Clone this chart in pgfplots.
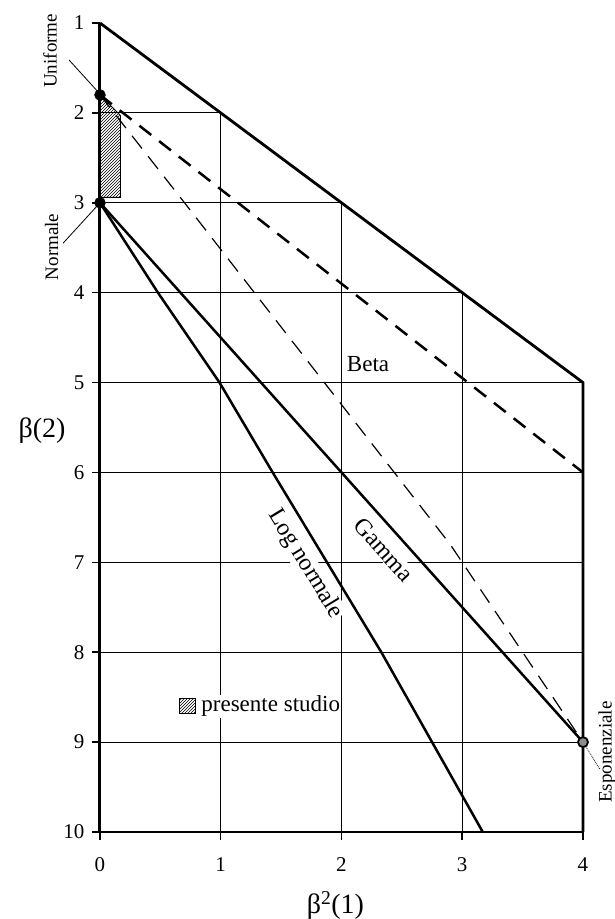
\documentclass[border=0pt]{standalone}
\usepackage{pgfplots}
\pgfplotsset{compat=1.18}
\usepackage{fontspec}
\setmainfont{Liberation Serif}
\usetikzlibrary{patterns}
\begin{document}
\begin{tikzpicture}[x=1pt,y=1pt]
\begin{axis}[
  at={(0,0)}, anchor=south west,
  scale only axis, width=483pt, height=809pt,
  xmin=0, xmax=4, ymin=1, ymax=10, y dir=reverse,
  axis line style={draw=none},
  xtick={0,1,2,3,4}, ytick={1,2,3,4,5,6,7,8,9,10},
  tick align=outside, major tick length=8pt,
  tick style={black, line width=1.5pt},
  xtick pos=bottom, ytick pos=left,
  ticklabel style={font=\fontsize{21}{25}\selectfont},
  xticklabel style={yshift=-14pt},
  yticklabel style={xshift=-4pt},
  /pgf/number format/assume math mode=true,
  clip=false,
]
% grid (clipped to the feasible region)
\addplot[black, line width=1pt] coordinates {(0,2)(1,2)};
\addplot[black, line width=1pt] coordinates {(0,3)(2,3)};
\addplot[black, line width=1pt] coordinates {(0,4)(3,4)};
\addplot[black, line width=1pt] coordinates {(0,5)(4,5)};
\addplot[black, line width=1pt] coordinates {(0,6)(4,6)};
\addplot[black, line width=1pt] coordinates {(0,7)(4,7)};
\addplot[black, line width=1pt] coordinates {(0,8)(4,8)};
\addplot[black, line width=1pt] coordinates {(0,9)(4,9)};
\addplot[black, line width=1pt] coordinates {(1,2)(1,10)};
\addplot[black, line width=1pt] coordinates {(2,3)(2,10)};
\addplot[black, line width=1pt] coordinates {(3,4)(3,10)};
% hatched region (presente studio)
\addplot[draw=black, line width=0.8pt, pattern=north east lines] coordinates {(0,1.8)(0.17,2.03)(0.17,2.94)(0,2.94)} --cycle;
% Beta dashed lines
\addplot[black, line width=2.5pt, dash pattern=on 15pt off 10pt] coordinates {(0,1.8)(4,6)};
\addplot[black, line width=1.2pt, dash pattern=on 16pt off 10pt] coordinates {(0,1.8)(0.7,3.0)(2.9,6.8)(4,9)};
% Gamma and Log normal
\addplot[black, line width=2.5pt] coordinates {(0,3)(4,9)};
\addplot[black, line width=2.5pt] coordinates {(0,3)(0.48,4)(0.99,5)(1.43,6)(1.88,7)(2.33,8)(2.75,9)(3.17,10)};
% frame
\addplot[black, line width=2.8pt, line join=miter] coordinates {(0,1)(4,5)(4,10)};
\addplot[black, line width=2.5pt] coordinates {(0,10)(4,10)};
\addplot[black, line width=3pt] coordinates {(0,1)(0,10)};
% leader lines
\addplot[black, line width=0.8pt] coordinates {(-0.257,1.41)(0,1.79)};
\addplot[black, line width=0.8pt] coordinates {(-0.306,3.45)(0,3.0)};
\addplot[black, line width=0.8pt, densely dotted] coordinates {(4,9)(4.14,9.3)};
% points
\addplot[only marks, mark=*, mark size=5.5pt, black] coordinates {(0,1.8)(0,3)};
\addplot[only marks, mark=*, mark size=5pt, mark options={fill=black!45, draw=black, line width=1.8pt}] coordinates {(4,9)};
% legend patch
\addplot[draw=black, line width=0.8pt, pattern=north east lines] coordinates {(0.66,8.51)(0.79,8.51)(0.79,8.68)(0.66,8.68)} --cycle;
\node[anchor=west, font=\fontsize{23}{27}\selectfont, fill=white, inner sep=1pt] at (axis cs:0.83,8.6) {presente studio};
% labels
\node[font=\fontsize{23}{27}\selectfont, fill=white, inner sep=1pt] at (axis cs:2.22,4.79) {Beta};
\node[font=\fontsize{24}{28}\selectfont, rotate=-48.1, fill=white, inner sep=1pt] at (axis cs:2.35,6.86) {Gamma};
\node[font=\fontsize{24}{28}\selectfont, rotate=-58.6, fill=white, inner sep=1pt] at (axis cs:1.70,7.02) {Log normale};
\node[font=\fontsize{19}{23}\selectfont, rotate=90] at (axis cs:-0.414,1.31) {Uniforme};
\node[font=\fontsize{19}{23}\selectfont, rotate=90] at (axis cs:-0.40,3.49) {Normale};
\node[font=\fontsize{19}{23}\selectfont, rotate=90] at (axis cs:4.2,9.11) {Esponenziale};
% axis labels
\node[font=\fontsize{28}{32}\selectfont] at (axis cs:1.95,10.82) {β\textsuperscript{2}(1)};
\node[font=\fontsize{28}{32}\selectfont] at (axis cs:-0.48,5.53) {β(2)};
\end{axis}
\pgfresetboundingbox
\path[use as bounding box] (-100,-87) rectangle (514,832);
\end{tikzpicture}
\end{document}
